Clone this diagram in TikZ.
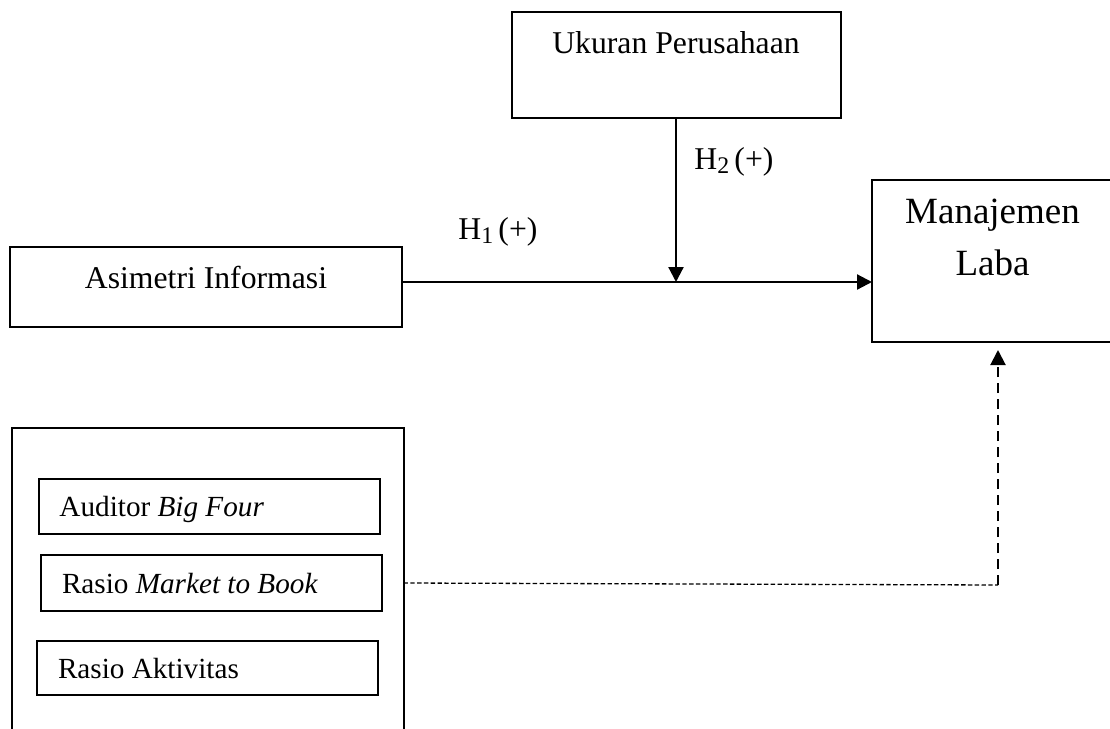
\documentclass[tikz,border=0pt]{standalone}
\usepackage{fontspec}
\setmainfont{Liberation Serif}
\usetikzlibrary{arrows.meta,positioning,calc}
\newcommand{\hypsub}[1]{\raisebox{-2pt}{\fontsize{11.9}{12}\selectfont #1}}
\tikzset{
    varbox/.style={draw,line width=1pt,inner sep=0pt,outer sep=0pt,
      font=\fontsize{15.85}{19}\selectfont},
    itembox/.style={draw,line width=1pt,inner xsep=10.5pt,inner ysep=0pt,outer sep=0pt,
      minimum width=170.5pt,font=\fontsize{14.6}{17.5}\selectfont},
    ctrlbox/.style={draw,line width=1pt,inner sep=0pt,outer sep=0pt},
    flowarrow/.style={-{Triangle[length=7.5pt,width=7.5pt]},line width=1.1pt},
    dashlink/.style={line width=0.65pt,dash pattern=on 2.2pt off 1.2pt},
    dasharrow/.style={-{Triangle[length=7.5pt,width=7.5pt]},line width=1pt,
      dash pattern=on 5pt off 3pt},
    hyplabel/.style={inner sep=0pt,anchor=base west,font=\fontsize{15.85}{19}\selectfont}
}
\begin{document}
\begin{tikzpicture}[x=0.5pt,y=-0.5pt]
  \useasboundingbox (0,0) rectangle (1110,729);
  \clip (0,0) rectangle (1110,729);
  % variables
  \node[varbox,minimum width=164.5pt,minimum height=53pt,text height=20.5pt,text depth=32.5pt]
    (ukuran) at (676,65) {Ukuran Perusahaan};
  \node[varbox,minimum width=196pt,minimum height=40pt,text height=20.5pt,text depth=19.5pt]
    (asim) at (206,287) {Asimetri Informasi};
  \node[varbox,minimum width=120.5pt,minimum height=81pt,text height=21.5pt,text depth=59.5pt,
    font=\fontsize{18.5}{26}\selectfont]
    (manaj) at (992.5,261) {\begin{tabular}[t]{@{}c@{}}Manajemen\\Laba\end{tabular}};
  % control variables
  \node[ctrlbox,minimum width=196pt,minimum height=186pt] (ctrl) at (207.5,614) {};
  \node[itembox,text height=18.5pt,text depth=9pt] (audit) at (209,506.5)
    {\makebox[149.5pt][l]{Auditor \textit{Big Four}}};
  \node[itembox,text height=19pt,text depth=9pt] (market) at (211.5,583)
    {\makebox[149.5pt][l]{Rasio \textit{Market to Book}}};
  \node[itembox,text height=18.5pt,text depth=8.5pt] (aktiv) at (207.5,668)
    {\makebox[149.5pt][l]{Rasio Aktivitas}};
  % hypotheses
  \coordinate (h1) at ([yshift=2.5pt]asim.east);
  \coordinate (mod) at (ukuran.south |- h1);
  \draw[flowarrow] (h1) -- (h1 -| manaj.west);
  \draw[flowarrow] (ukuran.south) -- (mod);
  \node[hyplabel] (h1lab) at (458,239) {H\hypsub{1}\,(+)};
  \node[hyplabel] (h2lab) at (694,169) {H\hypsub{2}\,(+)};
  % control link
  \coordinate (bend) at (998,585);
  \draw[dashlink] (market -| ctrl.east) -- (bend);
  \draw[dasharrow] (bend) -- ([yshift=-4pt]manaj.south -| bend);
\end{tikzpicture}
\end{document}
